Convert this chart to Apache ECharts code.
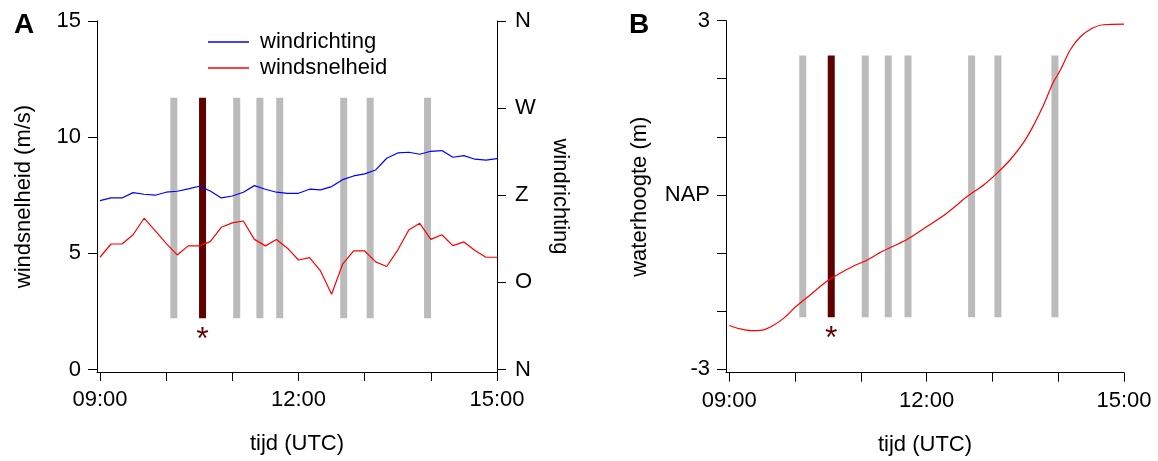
<!DOCTYPE html>
<html>
<head>
<meta charset="utf-8">
<title>wind en waterhoogte</title>
<script src="https://cdn.jsdelivr.net/npm/echarts@6/dist/echarts.min.js"></script>
<style>
	html, body {
		margin: 0;
		padding: 0;
		background: #fff;
	}

	#main {
		width: 1158px;
		height: 461px;
	}
</style>
</head>
<body>
<div id="main"></div>
<script>
	// tijdstippen (10 minuten) paneel A
	var timesA = ['09:00', '09:10', '09:20', '09:30', '09:40', '09:50',
		'10:00', '10:10', '10:20', '10:30', '10:40', '10:50',
		'11:00', '11:10', '11:20', '11:30', '11:40', '11:50',
		'12:00', '12:10', '12:20', '12:30', '12:40', '12:50',
		'13:00', '13:10', '13:20', '13:30', '13:40', '13:50',
		'14:00', '14:10', '14:20', '14:30', '14:40', '14:50', '15:00'];

	// windsnelheid (m/s)
	var windSpeed = [4.83, 5.40, 5.40, 5.80, 6.51, 5.98, 5.43, 4.93, 5.32, 5.32, 5.50, 6.12,
		6.31, 6.39, 5.60, 5.32, 5.59, 5.22, 4.71, 4.81, 4.24, 3.24, 4.53, 5.10,
		5.10, 4.63, 4.43, 5.14, 6.00, 6.29, 5.60, 5.80, 5.33, 5.49, 5.12, 4.83, 4.83];

	// windrichting (graden, N = 0)
	var windDir = [174.4, 177.2, 177.2, 182.7, 181.0, 180.0, 183.1, 184.1, 186.5, 189.3, 184.4, 177.2,
		179.2, 183.1, 189.9, 186.2, 183.1, 182.0, 182.0, 186.2, 185.5, 188.9, 196.1, 199.9,
		202.0, 206.1, 218.2, 223.7, 224.4, 222.3, 225.4, 226.1, 219.2, 220.9, 217.2, 216.2, 217.9];

	// waterhoogte (m t.o.v. NAP) paneel B
	var timesB = ['09:00', '09:10', '09:20', '09:30', '09:40', '09:50', '10:01', '10:14', '10:29',
		'10:41', '10:53', '11:05', '11:17', '11:29', '11:42', '12:00', '12:18', '12:37', '12:52',
		'13:04', '13:16', '13:28', '13:37', '13:46', '13:55', '14:02', '14:11', '14:20', '14:31',
		'14:41', '15:00'];
	var waterLevel = [-2.25, -2.31, -2.34, -2.33, -2.25, -2.12, -1.92, -1.72, -1.49,
		-1.35, -1.23, -1.13, -1.00, -0.89, -0.77, -0.55, -0.32, -0.03, 0.17,
		0.37, 0.60, 0.89, 1.18, 1.52, 1.92, 2.15, 2.50, 2.72, 2.87,
		2.93, 2.94];

	// gebeurtenissen (grijze balken), de gemarkeerde met *
	var eventTimes = ['10:07', '10:33', '11:04', '11:25', '11:43', '12:41', '13:05', '13:57'];
	var markedEvent = 1;
	var barRangeA = [2.2, 11.7];
	var barRangeB = [-2.11, 2.4];

	var dirLabels = {0: 'N', 90: 'O', 180: 'Z', 270: 'W', 360: 'N'};
	var levelLabels = {'-3': '-3', '0': 'NAP', '3': '3'};

	var FONT = 'Liberation Sans';

	function hours(s) {
		var p = s.split(':');
		return Number(p[0]) + Number(p[1]) / 60;
	}

	function hourLabel(v) {
		var h = Math.round(v);
		return (h < 10 ? '0' : '') + h + ':00';
	}

	function zip(times, vals) {
		return times.map(function(t, i) {
			return [hours(t), vals[i]];
		});
	}

	function eventData(range) {
		return eventTimes.map(function(t, i) {
			return [hours(t), range[0], range[1], i === markedEvent ? 1 : 0];
		});
	}

	// balk + sterretje
	function renderEvent(params, api) {
		var t = api.value(0);
		var p0 = api.coord([t, api.value(1)]);
		var p1 = api.coord([t, api.value(2)]);
		var marked = api.value(3) === 1;
		var w = 7;
		var children = [{
			type: 'rect',
			shape: {x: p1[0] - w / 2, y: p1[1], width: w, height: p0[1] - p1[1]},
			style: {fill: marked ? '#600000' : '#bbbbbb'}
		}];
		if (marked) {
			children.push({
				type: 'text',
				style: {
					text: '*', x: p0[0], y: p0[1] + 22,
					align: 'center', verticalAlign: 'middle',
					fill: '#600000', font: '32px "' + FONT + '"'
				}
			});
		}
		return {type: 'group', children: children};
	}

	var axisCommon = {
		axisLine: {show: true, onZero: false, lineStyle: {color: '#000', width: 1}},
		axisTick: {show: true, length: 9, lineStyle: {color: '#000', width: 1}},
		splitLine: {show: false},
		axisLabel: {color: '#000', fontSize: 22, fontFamily: FONT, margin: 16},
		nameTextStyle: {color: '#000', fontSize: 22, fontFamily: FONT}
	};

	function axis(extra) {
		var a = echarts.util.merge({}, axisCommon, true);
		return echarts.util.merge(a, extra, true);
	}

	var myChart = echarts.init(document.getElementById('main'), null, {renderer: 'canvas'});

	var hourTicks = [9, 10, 11, 12, 13, 14, 15];
	var hourLabels = [9, 12, 15];

	option = {
		animation: false,
		backgroundColor: '#fff',
		textStyle: {fontFamily: FONT},
		title: [
			{text: 'A', left: 9, top: 6, textStyle: {fontSize: 28, fontWeight: 'bold', color: '#000', fontFamily: FONT}},
			{text: 'B', left: 624, top: 6, textStyle: {fontSize: 28, fontWeight: 'bold', color: '#000', fontFamily: FONT}}
		],
		legend: {
			data: ['windrichting', 'windsnelheid'],
			orient: 'vertical',
			left: 208,
			top: 29,
			padding: 0,
			icon: 'rect',
			itemWidth: 41,
			itemHeight: 1.5,
			itemGap: 0,
			textStyle: {fontSize: 22, fontFamily: FONT, color: '#000', lineHeight: 26, padding: [0, 0, 0, 6]}
		},
		grid: [
			{left: 97, top: 21, width: 400, height: 351},
			{left: 726, top: 20.7, width: 398, height: 352}
		],
		xAxis: [
			axis({
				type: 'value', gridIndex: 0, min: 8.955, max: 15,
				axisTick: {customValues: hourTicks},
				axisLabel: {customValues: hourLabels, formatter: hourLabel, margin: 17},
				name: 'tijd (UTC)', nameLocation: 'middle', nameGap: 61
			}),
			axis({
				type: 'value', gridIndex: 1, min: 8.95, max: 15,
				axisTick: {customValues: hourTicks},
				axisLabel: {customValues: hourLabels, formatter: hourLabel, margin: 17},
				name: 'tijd (UTC)', nameLocation: 'middle', nameGap: 61
			})
		],
		yAxis: [
			axis({
				type: 'value', gridIndex: 0, position: 'left', min: -0.11, max: 15,
				axisTick: {customValues: [0, 5, 10, 15]},
				axisLabel: {customValues: [0, 5, 10, 15]},
				name: 'windsnelheid (m/s)', nameLocation: 'middle', nameGap: 62
			}),
			axis({
				type: 'value', gridIndex: 0, position: 'right', min: -2.64, max: 360,
				axisTick: {customValues: [0, 90, 180, 270, 360]},
				axisLabel: {
					customValues: [0, 90, 180, 270, 360],
					formatter: function(v) { return dirLabels[Math.round(v)]; },
					margin: 18
				},
				name: 'windrichting', nameLocation: 'middle', nameGap: 52, nameRotate: -90
			}),
			axis({
				type: 'value', gridIndex: 1, position: 'left', min: -3.064, max: 3,
				axisTick: {customValues: [-3, -2, -1, 0, 1, 2, 3]},
				axisLabel: {
					customValues: [-3, 0, 3],
					formatter: function(v) { return levelLabels[String(Math.round(v))]; }
				},
				name: 'waterhoogte (m)', nameLocation: 'middle', nameGap: 75
			})
		],
		series: [
			{
				type: 'custom', name: 'eventsA', xAxisIndex: 0, yAxisIndex: 0, z: 1,
				renderItem: renderEvent, data: eventData(barRangeA),
				encode: {x: 0, y: [1, 2]}, silent: true
			},
			{
				type: 'custom', name: 'eventsB', xAxisIndex: 1, yAxisIndex: 2, z: 1,
				renderItem: renderEvent, data: eventData(barRangeB),
				encode: {x: 0, y: [1, 2]}, silent: true
			},
			{
				name: 'windrichting', type: 'line', xAxisIndex: 0, yAxisIndex: 1, z: 3,
				data: zip(timesA, windDir), showSymbol: false, symbol: 'none',
				lineStyle: {color: '#0000ff', width: 1.2}, itemStyle: {color: '#0000ff'}
			},
			{
				name: 'windsnelheid', type: 'line', xAxisIndex: 0, yAxisIndex: 0, z: 3,
				data: zip(timesA, windSpeed), showSymbol: false, symbol: 'none',
				lineStyle: {color: '#ff0000', width: 1.2}, itemStyle: {color: '#ff0000'}
			},
			{
				name: 'waterhoogte', type: 'line', xAxisIndex: 1, yAxisIndex: 2, z: 3,
				data: zip(timesB, waterLevel), showSymbol: false, symbol: 'none', smooth: 0.3,
				lineStyle: {color: '#ff0000', width: 1.2}, itemStyle: {color: '#ff0000'}
			}
		]
	};

	myChart.setOption(option);
</script>
</body>
</html>
